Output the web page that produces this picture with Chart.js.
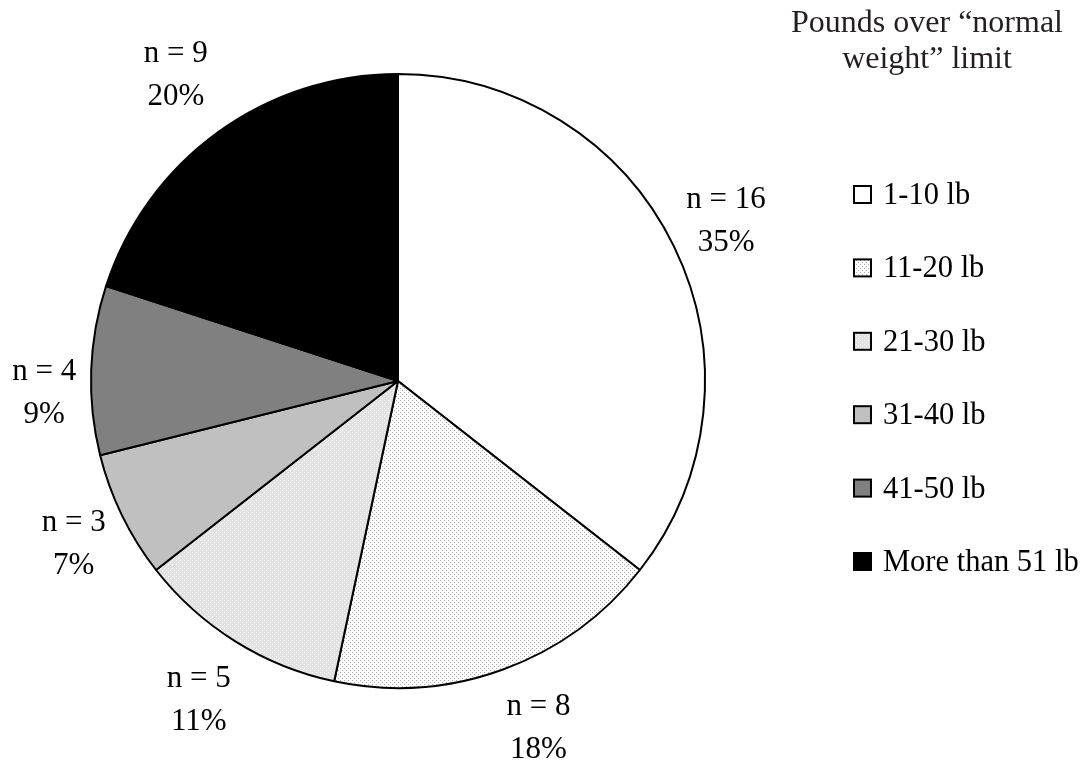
<!DOCTYPE html>
<html>
<head>
<meta charset="utf-8">
<script src="https://cdn.jsdelivr.net/npm/chart.js@4/dist/chart.umd.min.js"></script>
<style>
  html, body { margin: 0; padding: 0; background: #fff; }
  #wrap { width: 1085px; height: 765px; }
</style>
</head>
<body>
<div id="wrap"><canvas id="grafico" width="1085" height="765"></canvas></div>
<script>
const categorias = ['1-10 lb', '11-20 lb', '21-30 lb', '31-40 lb', '41-50 lb', 'More than 51 lb'];
const contagens  = [16, 8, 5, 3, 4, 9];
const percentuais = ['35%', '18%', '11%', '7%', '9%', '20%'];
const tituloLegenda = ['Pounds over \u201cnormal', 'weight\u201d limit'];

const FONTE = '"Liberation Serif", "DejaVu Serif", serif';

// where each n/% label sits: distance from the centre (px) and a small angle nudge (deg)
const distRotulo  = [365, 375, 376, 363, 354, 378];
const ajusteAngulo = [0, -2, 0, -0.7, -4, 0];

// small dotted tiles for the two stippled slices
function pontilhado(fundo, ponto) {
  const c = document.createElement('canvas');
  c.width = 4; c.height = 4;
  const g = c.getContext('2d');
  g.fillStyle = fundo;
  g.fillRect(0, 0, 4, 4);
  g.fillStyle = ponto;
  g.fillRect(0, 0, 1, 1);
  g.fillRect(2, 2, 1, 1);
  return g.createPattern(c, 'repeat');
}

const cores = [
  '#ffffff',
  pontilhado('#ffffff', '#a8a8a8'),
  pontilhado('#e2e2e2', '#ffffff'),
  '#c0c0c0',
  '#808080',
  '#000000'
];

// n = / % labels outside each slice
const rotulos = {
  id: 'rotulos',
  afterDatasetsDraw(chart) {
    const ctx = chart.ctx;
    const meta = chart.getDatasetMeta(0);
    ctx.save();
    ctx.font = '31px ' + FONTE;
    ctx.fillStyle = '#000';
    ctx.textAlign = 'center';
    ctx.textBaseline = 'middle';
    meta.data.forEach((arco, i) => {
      const meio = (arco.startAngle + arco.endAngle) / 2 + ajusteAngulo[i] * Math.PI / 180;
      const r = distRotulo[i];
      const x = arco.x + Math.cos(meio) * r;
      const y = arco.y + Math.sin(meio) * r;
      ctx.fillText('n = ' + contagens[i], x, y - 21.5);
      ctx.fillText(percentuais[i], x, y + 21.5);
    });
    ctx.restore();
  }
};

// legend on the right with its two-line heading
const legenda = {
  id: 'legenda',
  afterDraw(chart) {
    const ctx = chart.ctx;
    ctx.save();
    ctx.textAlign = 'center';
    ctx.textBaseline = 'alphabetic';
    ctx.fillStyle = '#231f20';
    ctx.font = '32px ' + FONTE;
    ctx.fillText(tituloLegenda[0], 927, 32);
    ctx.fillText(tituloLegenda[1], 927, 68);

    ctx.textAlign = 'left';
    ctx.font = '30.5px ' + FONTE;
    const cor = chart.data.datasets[0].backgroundColor;
    chart.data.labels.forEach((txt, i) => {
      const topo = 185 + i * 73.4;
      ctx.fillStyle = cor[i];
      ctx.fillRect(854, topo + 1, 17, 17);
      ctx.lineWidth = 2;
      ctx.strokeStyle = '#000';
      ctx.strokeRect(854, topo + 1, 17, 17);
      ctx.fillStyle = '#000';
      ctx.fillText(txt, 883, topo + 19);
    });
    ctx.restore();
  }
};

new Chart(document.getElementById('grafico'), {
  type: 'pie',
  data: {
    labels: categorias,
    datasets: [{
      data: contagens,
      backgroundColor: cores,
      borderColor: '#000',
      borderWidth: 2,
      radius: 307
    }]
  },
  options: {
    responsive: false,
    animation: false,
    layout: { padding: { left: 0, right: 289, top: 0, bottom: 3 } },
    plugins: {
      legend: { display: false },
      tooltip: { enabled: false }
    }
  },
  plugins: [rotulos, legenda]
});
</script>
</body>
</html>
